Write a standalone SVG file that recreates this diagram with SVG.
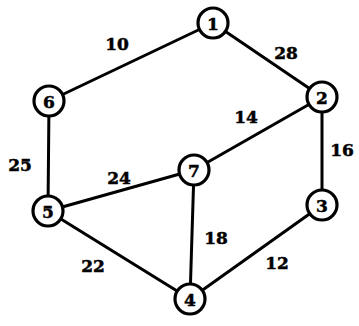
<svg xmlns="http://www.w3.org/2000/svg" width="359" height="326" viewBox="0 0 359 326">
<style>
.e{stroke:#000;stroke-width:3;fill:none;stroke-linecap:round}
.n circle{fill:#fff;stroke:#000;stroke-width:3.2}
.n text,.l{font-family:"DejaVu Serif",serif;font-weight:bold;font-size:17px;text-anchor:middle;dominant-baseline:central;fill:#000;stroke:#000;stroke-width:0.5}
</style>
<rect width="359" height="326" fill="#fff"/>
<g id="edges">
<line class="e" x1="213" y1="23" x2="49" y2="101"/>
<line class="e" x1="213" y1="23" x2="322" y2="97"/>
<line class="e" x1="322" y1="97" x2="194" y2="170"/>
<line class="e" x1="322" y1="97" x2="322" y2="205"/>
<line class="e" x1="49" y1="101" x2="48" y2="211"/>
<line class="e" x1="48" y1="211" x2="194" y2="170"/>
<line class="e" x1="48" y1="211" x2="190" y2="299"/>
<line class="e" x1="194" y1="170" x2="190" y2="299"/>
<line class="e" x1="322" y1="205" x2="190" y2="299"/>
</g>
<g id="labels">
<text class="l" x="117" y="44">10</text>
<text class="l" x="286" y="53">28</text>
<text class="l" x="246" y="117">14</text>
<text class="l" x="342" y="150">16</text>
<text class="l" x="20" y="165">25</text>
<text class="l" x="119" y="178">24</text>
<text class="l" x="93" y="266">22</text>
<text class="l" x="216" y="238">18</text>
<text class="l" x="277" y="263">12</text>
</g>
<g id="node1" class="n"><circle cx="213" cy="23" r="15"/><text x="213" y="24">1</text></g>
<g id="node2" class="n"><circle cx="322" cy="97" r="15"/><text x="322" y="98">2</text></g>
<g id="node3" class="n"><circle cx="322" cy="205" r="15"/><text x="322" y="206">3</text></g>
<g id="node4" class="n"><circle cx="190" cy="299" r="15"/><text x="190" y="300">4</text></g>
<g id="node5" class="n"><circle cx="48" cy="211" r="15"/><text x="48" y="212">5</text></g>
<g id="node6" class="n"><circle cx="49" cy="101" r="15"/><text x="49" y="102">6</text></g>
<g id="node7" class="n"><circle cx="194" cy="170" r="15"/><text x="194" y="171">7</text></g>
</svg>
